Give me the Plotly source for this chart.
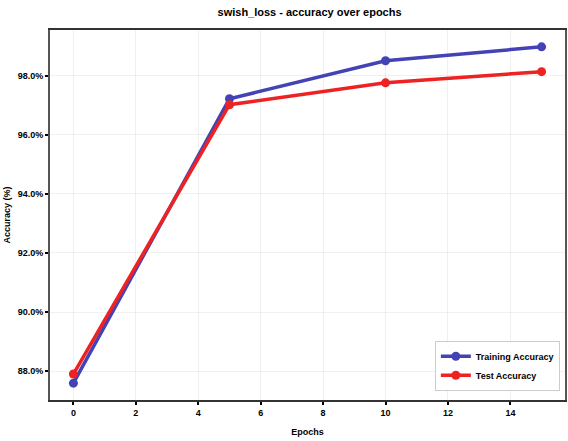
import plotly.graph_objects as go

epochs = [0, 5, 10, 15]
train_acc = [87.59, 97.22, 98.51, 98.98]
test_acc = [87.90, 97.02, 97.76, 98.14]
y_ticks = [88, 90, 92, 94, 96, 98]
y_tick_labels = ["88.0%", "90.0%", "92.0%", "94.0%", "96.0%", "98.0%"]
x_ticks = [0, 2, 4, 6, 8, 10, 12, 14]

font_family = "Liberation Sans"

fig = go.Figure()
fig.add_trace(go.Scatter(
    x=epochs, y=train_acc, mode="lines+markers", name="<b>Training Accuracy</b>",
    line=dict(color="#4343B5", width=3.5),
    marker=dict(color="#4343B5", size=9),
))
fig.add_trace(go.Scatter(
    x=epochs, y=test_acc, mode="lines+markers", name="<b>Test Accuracy</b>",
    line=dict(color="#EE2222", width=3.5),
    marker=dict(color="#EE2222", size=9),
))

fig.update_layout(
    width=568, height=441,
    margin=dict(l=50, r=3, t=30, b=41, autoexpand=False),
    paper_bgcolor="white", plot_bgcolor="white",
    font=dict(family=font_family, size=9, color="black"),
    title=dict(text="<b>swish_loss - accuracy over epochs</b>", x=0.545, xanchor="center",
               y=0.972, yanchor="middle", font=dict(size=11, color="black")),
    legend=dict(x=0.99, y=0.025, xanchor="right", yanchor="bottom",
                bgcolor="rgba(255,255,255,0.9)", bordercolor="#CCCCCC", borderwidth=1,
                font=dict(size=9), tracegroupgap=0, itemwidth=30),
    showlegend=True,
)
fig.update_xaxes(
    range=[-0.75, 15.75], tickvals=x_ticks, ticktext=[f"<b>{v}</b>" for v in x_ticks],
    showgrid=True, gridcolor="rgba(0,0,0,0.06)", gridwidth=1.2,
    showline=True, linecolor="#333333", linewidth=2, mirror=True,
    ticks="outside", ticklen=3, tickwidth=1.5, tickcolor="black",
    zeroline=False, automargin=False,
    title=dict(text="<b>Epochs</b>", font=dict(size=9), standoff=12),
)
fig.update_yaxes(
    range=[87.02, 99.55], tickvals=y_ticks, ticktext=[f"<b>{t}</b>" for t in y_tick_labels],
    showgrid=True, gridcolor="rgba(0,0,0,0.06)", gridwidth=1.2,
    showline=True, linecolor="#555555", linewidth=2, mirror=True,
    ticks="outside", ticklen=3, tickwidth=1.5, tickcolor="black",
    zeroline=False, automargin=False,
    title=dict(text="<b>Accuracy (%)</b>", font=dict(size=9), standoff=6),
)

fig.write_html(
    "out.html",
    config={"displayModeBar": False},
    post_script="document.body.style.margin='0';document.body.style.overflow='hidden';",
)
